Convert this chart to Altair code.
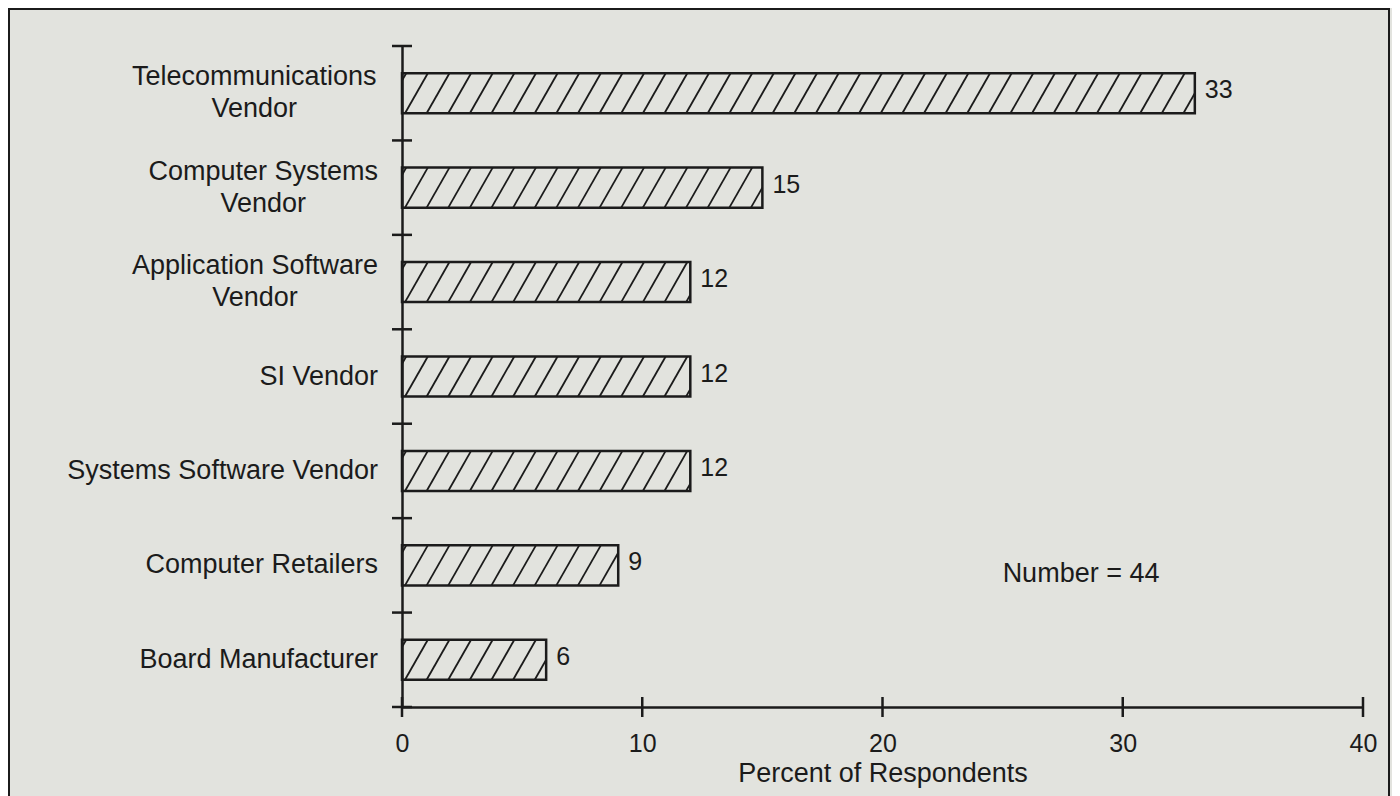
import altair as alt
import pandas as pd

# ---------------- data ----------------
categories = [
    "Telecommunications Vendor",
    "Computer Systems Vendor",
    "Application Software Vendor",
    "SI Vendor",
    "Systems Software Vendor",
    "Computer Retailers",
    "Board Manufacturer",
]
label_lines = [
    ["Telecommunications", "Vendor"],
    ["Computer Systems", "Vendor"],
    ["Application Software", "Vendor"],
    ["SI Vendor"],
    ["Systems Software Vendor"],
    ["Computer Retailers"],
    ["Board Manufacturer"],
]
values = [33, 15, 12, 12, 12, 9, 6]
x_ticks = [0, 10, 20, 30, 40]
x_title = "Percent of Respondents"
note_text = "Number = 44"
note_x = 25
note_row = 5.09

# ---------------- style ----------------
INK = "#1b1b1b"
BG = "#e2e3de"
FONT = "Liberation Sans, Arial, Helvetica, sans-serif"
W, H = 961, 661
LABEL_FS = 27
LABEL_GAP = 24        # px between label right edge and axis
HALF = 0.212          # half bar thickness (in row units)
HATCH_GAP = 0.9       # hatch spacing (x units)
HATCH_SLANT = 0.95    # horizontal run of one hatch stroke
HATCH_PHASE = 0.125

# approximate Liberation Sans advance widths (per 1000 em) to centre 2-line labels
_w = {"T": 611, "e": 556, "l": 222, "c": 500, "o": 556, "m": 833, "u": 556, "n": 556,
      "i": 222, "a": 556, "t": 278, "s": 500, "V": 667, "d": 556, "r": 333, "C": 722,
      "p": 556, "y": 500, "S": 667, " ": 278, "A": 667, "f": 278, "w": 722}
def _width(s):
    return sum(_w.get(ch, 556) for ch in s) * LABEL_FS / 1000.0

px_per_unit = W / 40.0

bars = pd.DataFrame({
    "cat": categories,
    "idx": list(range(len(categories))),
    "value": values,
})
bars["zero"] = 0
bars["ylo"] = bars["idx"] - HALF
bars["yhi"] = bars["idx"] + HALF

single = pd.DataFrame([
    {"idx": i, "text": lines[0]}
    for i, lines in enumerate(label_lines) if len(lines) == 1
])
double = pd.DataFrame([
    {"idx": i, "l1": lines[0], "l2": lines[1],
     "cx": (-LABEL_GAP - max(_width(s) for s in lines) / 2) / px_per_unit}
    for i, lines in enumerate(label_lines) if len(lines) == 2
])

# hatch strokes, clipped to each bar
hrows = []
for i, v in enumerate(values):
    k = -2
    while True:
        b = HATCH_PHASE + HATCH_GAP * k
        if b >= v:
            break
        t = b + HATCH_SLANT
        xs, xe = max(b, 0), min(t, v)
        if xe > xs:
            fs, fe = (xs - b) / HATCH_SLANT, (xe - b) / HATCH_SLANT
            hrows.append({"x": xs, "x2": xe,
                          "y": i + HALF - 2 * HALF * fs,
                          "y2": i + HALF - 2 * HALF * fe})
        k += 1
hatch = pd.DataFrame(hrows)

xticks_df = pd.DataFrame({"t": x_ticks})
yticks_df = pd.DataFrame({"b": [k - 0.5 for k in range(len(categories) + 1)]})
note_df = pd.DataFrame({"x": [note_x], "y": [note_row], "text": [note_text]})
frame_df = pd.DataFrame({"f": [0]})

xs_ = alt.Scale(domain=[0, 40], nice=False, zero=False)
ys_ = alt.Scale(domain=[-0.5, len(categories) - 0.5], reverse=True, nice=False, zero=False)

xaxis = alt.Axis(values=x_ticks, ticks=False, tickSize=0, domain=True, domainWidth=2.5,
                 domainColor=INK, labelFontSize=25, labelFont=FONT, labelColor=INK,
                 labelPadding=24, labelFlush=False, grid=False, title=x_title,
                 titleFont=FONT, titleFontSize=27, titleFontWeight="normal",
                 titleColor=INK, titlePadding=4)
yaxis = alt.Axis(domain=True, domainWidth=2.5, domainColor=INK, ticks=False,
                 labels=False, grid=False, title=None)

hatch_layer = alt.Chart(hatch).mark_rule(color=INK, strokeWidth=1.8).encode(
    x=alt.X("x:Q", scale=xs_, axis=xaxis), x2="x2:Q",
    y=alt.Y("y:Q", scale=ys_, axis=yaxis), y2="y2:Q",
)

bar_layer = alt.Chart(bars).mark_rect(filled=False, stroke=INK, strokeWidth=2.5).encode(
    x=alt.X("zero:Q", scale=xs_, axis=xaxis), x2="value:Q",
    y=alt.Y("ylo:Q", scale=ys_, axis=yaxis), y2="yhi:Q",
)

xtick_layer = alt.Chart(xticks_df).mark_rule(color=INK, strokeWidth=2.5).encode(
    x=alt.X("t:Q", scale=xs_, axis=xaxis),
    y=alt.value(H - 10), y2=alt.value(H + 10),
)

ytick_layer = alt.Chart(yticks_df).mark_rule(color=INK, strokeWidth=2.5).encode(
    y=alt.Y("b:Q", scale=ys_, axis=yaxis),
    x=alt.value(-10), x2=alt.value(10),
)

value_layer = alt.Chart(bars).mark_text(
    align="left", baseline="middle", dx=10, dy=-3, font=FONT, fontSize=25, color=INK
).encode(
    x=alt.X("value:Q", scale=xs_, axis=xaxis),
    y=alt.Y("idx:Q", scale=ys_, axis=yaxis),
    text="value:Q",
)

single_layer = alt.Chart(single).mark_text(
    align="right", baseline="middle", font=FONT, fontSize=LABEL_FS, color=INK
).encode(
    y=alt.Y("idx:Q", scale=ys_, axis=yaxis),
    x=alt.value(-LABEL_GAP),
    text="text:N",
)

line1_layer = alt.Chart(double).mark_text(
    align="center", baseline="middle", dy=-16, font=FONT, fontSize=LABEL_FS, color=INK
).encode(
    x=alt.X("cx:Q", scale=xs_, axis=xaxis),
    y=alt.Y("idx:Q", scale=ys_, axis=yaxis),
    text="l1:N",
)

line2_layer = alt.Chart(double).mark_text(
    align="center", baseline="middle", dy=16, font=FONT, fontSize=LABEL_FS, color=INK
).encode(
    x=alt.X("cx:Q", scale=xs_, axis=xaxis),
    y=alt.Y("idx:Q", scale=ys_, axis=yaxis),
    text="l2:N",
)

note_layer = alt.Chart(note_df).mark_text(
    align="left", baseline="middle", font=FONT, fontSize=LABEL_FS, color=INK
).encode(
    x=alt.X("x:Q", scale=xs_, axis=xaxis),
    y=alt.Y("y:Q", scale=ys_, axis=yaxis),
    text="text:N",
)

frame_layer = alt.Chart(frame_df).mark_rect(filled=False, stroke=INK, strokeWidth=2).encode(
    x=alt.value(-393), x2=alt.value(987), y=alt.value(-37), y2=alt.value(H + 200),
)

chart = alt.layer(
    frame_layer, hatch_layer, bar_layer, xtick_layer, ytick_layer,
    value_layer, single_layer, line1_layer, line2_layer, note_layer,
).properties(
    width=W, height=H, background=BG,
    padding={"left": 394, "top": 38, "right": 29, "bottom": 89},
    autosize=alt.AutoSizeParams(type="none"),
).configure_view(stroke=None)

chart.save("out.html", embed_options={"renderer": "svg", "actions": False})
